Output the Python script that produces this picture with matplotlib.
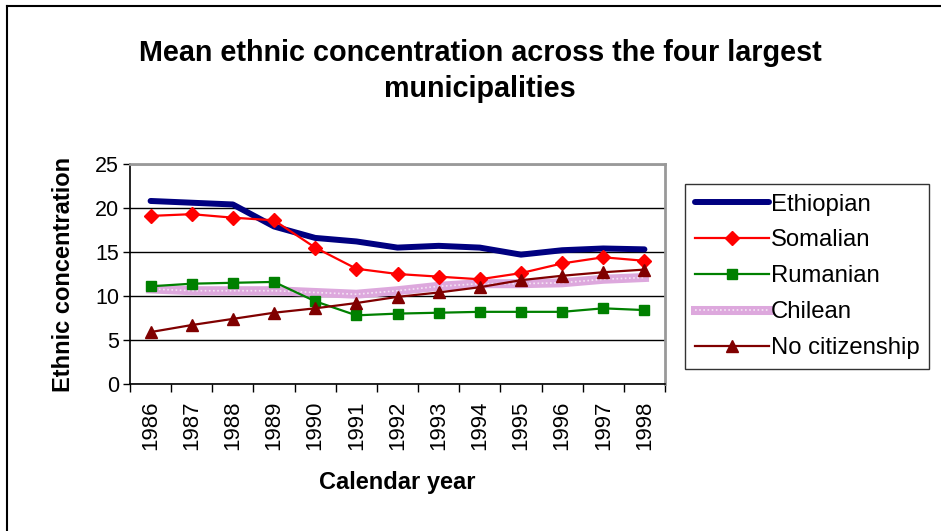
import matplotlib
matplotlib.use("Agg")
import matplotlib.pyplot as plt
from matplotlib.lines import Line2D
from matplotlib.legend_handler import HandlerTuple
import numpy as np

plt.rcParams['font.family'] = ['Liberation Sans', 'DejaVu Sans']

years = ["1986", "1987", "1988", "1989", "1990", "1991", "1992",
         "1993", "1994", "1995", "1996", "1997", "1998"]
ethiopian = [20.8, 20.6, 20.4, 17.9, 16.6, 16.2, 15.5, 15.7, 15.5, 14.7, 15.2, 15.4, 15.3]
somalian = [19.1, 19.3, 18.9, 18.6, 15.5, 13.1, 12.5, 12.2, 11.9, 12.6, 13.7, 14.4, 14.0]
rumanian = [11.1, 11.4, 11.5, 11.6, 9.4, 7.8, 8.0, 8.1, 8.2, 8.2, 8.2, 8.6, 8.4]
chilean = [10.8, 10.6, 10.6, 10.6, 10.4, 10.2, 10.6, 11.1, 11.4, 11.4, 11.5, 11.9, 12.1]
no_citizenship = [5.9, 6.7, 7.4, 8.1, 8.6, 9.2, 9.9, 10.4, 11.0, 11.8, 12.3, 12.7, 13.0]

W, H = 941, 531
fig = plt.figure(figsize=(W / 100, H / 100), dpi=100)
fig.patch.set_facecolor("white")

# outer frame (left and top edges)
fig.add_artist(Line2D([7 / W, 7 / W], [0, 1 - 6 / H], transform=fig.transFigure,
                      color="black", lw=1.5))
fig.add_artist(Line2D([7 / W, 1], [1 - 6 / H, 1 - 6 / H], transform=fig.transFigure,
                      color="black", lw=1.5))
fig.text(22 / W, 1 + 13 / H, "Figure", fontsize=14, family="Liberation Serif",
         va="baseline", ha="left")

left, right, top, bottom = 130, 665, 164, 384
ax = fig.add_axes([left / W, 1 - bottom / H, (right - left) / W, (bottom - top) / H])

x = np.arange(len(years))

ax.plot(x, ethiopian, color="#000080", lw=4.3, solid_capstyle="round",
        solid_joinstyle="round", label="Ethiopian", zorder=3)
ax.plot(x, somalian, color="#FF0000", lw=1.6, marker="D", markersize=7,
        label="Somalian", zorder=4)
ax.plot(x, rumanian, color="#008000", lw=1.6, marker="s", markersize=7.5,
        label="Rumanian", zorder=4)
ch_base, = ax.plot(x, chilean, color="#DDA8DD", lw=6.5, zorder=2)
ch_dots, = ax.plot(x, chilean, color="white", lw=1.2, ls=(0, (1, 1.5)), alpha=0.7, zorder=2)
ax.plot(x, no_citizenship, color="#800000", lw=1.6, marker="^", markersize=8,
        label="No citizenship", zorder=4)

ax.set_xlim(-0.5, len(years) - 0.5)
ax.set_ylim(0, 25)
ax.set_yticks(np.arange(0, 26, 5))
ax.yaxis.grid(True, color="black", lw=1.0)
ax.set_axisbelow(True)

ax.set_xticks(x)
ax.set_xticklabels(years, rotation=90, fontsize=16)
ax.set_xticks(np.arange(len(years) + 1) - 0.5, minor=True)
ax.tick_params(axis="x", which="major", length=0, pad=12)
ax.tick_params(axis="x", which="minor", length=6, direction="out", width=1)
ax.tick_params(axis="y", length=5, direction="out", width=1, labelsize=15.5, pad=3)

for s in ("top", "right"):
    ax.spines[s].set_color("#999999")
    ax.spines[s].set_linewidth(2)
for s in ("left", "bottom"):
    ax.spines[s].set_color("black")
    ax.spines[s].set_linewidth(1.2)

ax.set_ylabel("Ethnic concentration", fontsize=17, fontweight="bold", labelpad=14)
ax.set_xlabel("Calendar year", fontsize=17, fontweight="bold", labelpad=15)

fig.text(480 / W, 1 - 71 / H, "Mean ethnic concentration across the four largest\nmunicipalities",
         ha="center", va="center", fontsize=20.7, fontweight="bold", linespacing=1.38)

handles, labels = ax.get_legend_handles_labels()
handles.insert(3, (ch_base, ch_dots))
labels.insert(3, "Chilean")
leg = fig.legend(handles, labels, loc="upper left",
                 bbox_to_anchor=(685 / W, 1 - 184 / H), fontsize=17.2,
                 frameon=True, fancybox=False, edgecolor="black", handlelength=3.1,
                 handletextpad=0.1, labelspacing=0.58, borderpad=0.4, borderaxespad=0,
                 handler_map={tuple: HandlerTuple(ndivide=1, pad=0)})
leg.get_frame().set_linewidth(1.0)

fig.savefig("out.png", dpi=100)
